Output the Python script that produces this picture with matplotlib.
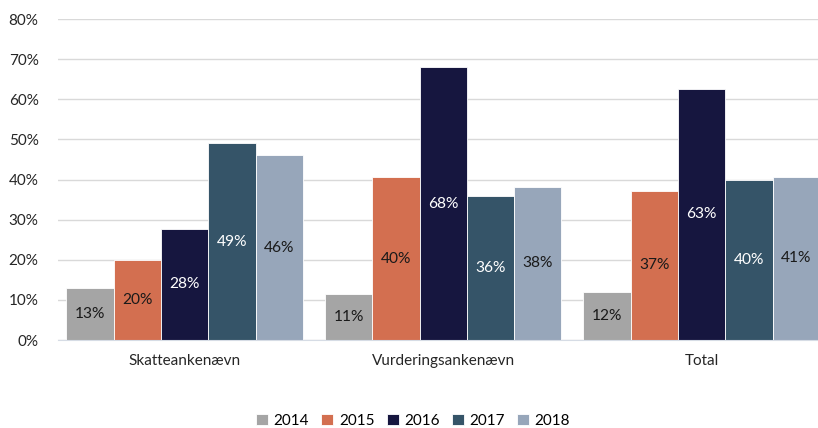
import numpy as np
import matplotlib
matplotlib.use("Agg")
import matplotlib.pyplot as plt

plt.rcParams["font.family"] = ["Lato", "DejaVu Sans"]

categories = ["Skatteankenævn", "Vurderingsankenævn", "Total"]
years = ["2014", "2015", "2016", "2017", "2018"]
values = {
    "2014": [0.13, 0.114, 0.12],
    "2015": [0.20, 0.405, 0.372],
    "2016": [0.277, 0.68, 0.626],
    "2017": [0.49, 0.36, 0.40],
    "2018": [0.46, 0.382, 0.407],
}
colors = ["#A5A5A5", "#D36F50", "#16163F", "#355468", "#97A6BA"]
label_colors = ["#1a1a1a", "#1a1a1a", "white", "white", "#1a1a1a"]

fig = plt.figure(figsize=(8.18, 4.28), dpi=100)
ax = fig.add_axes([0.0709, 0.2056, 0.9291, 0.75])

x = np.arange(len(categories))
w = 0.183
for i, yr in enumerate(years):
    pos = x + (i - 2) * w
    bars = ax.bar(pos, values[yr], w, color=colors[i], label=yr,
                  edgecolor="white", linewidth=0.6, zorder=2)
    for b, v in zip(bars, values[yr]):
        ax.text(b.get_x() + b.get_width() / 2, v / 2, f"{v*100:.0f}%",
                ha="center", va="center", fontsize=11.2, color=label_colors[i])

ax.set_xlim(-0.49, 2.45)
ax.set_ylim(0, 0.8)
ax.set_yticks(np.arange(0, 0.81, 0.1))
ax.set_yticklabels([f"{t}%" for t in range(0, 81, 10)])
ax.set_xticks(x)
ax.set_xticklabels(categories)
ax.tick_params(length=0, labelsize=11, labelcolor="#262626")
ax.tick_params(axis="x", pad=10)
ax.tick_params(axis="y", pad=14)
ax.grid(axis="y", color="#D9D9D9", lw=1, zorder=0)
for s in ["top", "right", "left"]:
    ax.spines[s].set_visible(False)
ax.spines["bottom"].set_color("#D6DCE5")

fig.legend(loc="lower center", ncol=5, frameon=False, fontsize=11,
           bbox_to_anchor=(0.505, -0.032), handlelength=0.8, handleheight=0.8,
           handletextpad=0.35, columnspacing=0.8)

fig.savefig("out.png", dpi=100)
